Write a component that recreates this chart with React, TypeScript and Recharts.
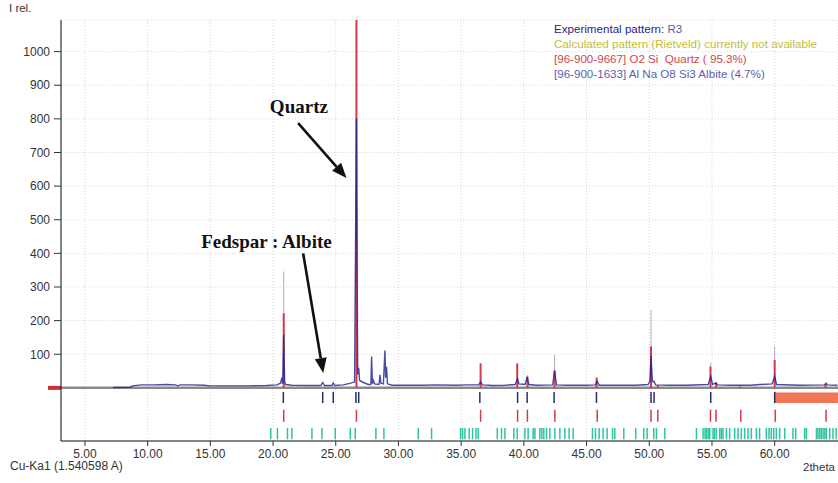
import { ComposedChart, Line, XAxis, YAxis, CartesianGrid, ReferenceLine, ReferenceArea, ReferenceDot } from 'recharts';

// 2theta axis
const xTicks = [5, 10, 15, 20, 25, 30, 35, 40, 45, 50, 55, 60];
const yTicks = [100, 200, 300, 400, 500, 600, 700, 800, 900, 1000];

// experimental pattern R3 (2theta, I rel.)
const expTheta = [
  7.25, 8.6, 8.8, 9.5, 10.5, 11.5, 12.2, 12.4, 12.6, 13.5, 14.5, 15.0, 16.5, 18.0, 19.5,
  20.3, 20.6, 20.7, 20.77, 20.85, 20.92, 21.0, 21.5, 22.5, 23.8, 23.96, 24.1, 24.7, 24.8, 24.9,
  25.6, 26.2, 26.5, 26.65, 26.75, 26.83, 26.9, 27.2, 27.6, 27.8, 27.86, 27.92, 28.0, 28.1,
  28.45, 28.53, 28.6, 28.8, 28.92, 28.98, 29.05, 29.12, 29.5, 30.5, 32.0, 33.0, 34.5, 35.5,
  36.4, 36.55, 36.7, 37.5, 38.5, 39.3, 39.5, 39.6, 40.1, 40.26, 40.4, 41.0, 42.3, 42.45, 42.6,
  43.5, 45.0, 45.7, 45.84, 46.0, 47.5, 49.0, 49.9, 50.05, 50.14, 50.25, 50.38, 50.5, 51.5,
  53.0, 54.7, 54.9, 55.05, 55.3, 55.45, 56.5, 58.0, 59.8, 60.0, 60.15, 62.0, 64.0, 64.1, 64.2, 65.0,
];
const expIntensity = [
  1, 2, 6, 9, 9, 10, 9, 6, 9, 9, 8, 6, 6, 6, 7,
  9, 14, 30, 12, 158, 20, 10, 8, 7, 7, 16, 7, 7, 15, 7,
  9, 14, 18, 800, 40, 60, 22, 16, 10, 10, 93, 12, 22, 12,
  10, 39, 14, 12, 111, 30, 63, 12, 8, 8, 8, 9, 8, 9,
  9, 18, 9, 7, 8, 10, 27, 12, 10, 31, 10, 8, 9, 51, 9,
  8, 8, 9, 20, 8, 8, 8, 10, 20, 95, 18, 20, 9, 8,
  8, 10, 34, 10, 15, 9, 8, 8, 12, 34, 10, 8, 9, 14, 9, 8,
];

// Quartz sticks drawn in the pattern
const quartzTheta = [20.85, 26.65, 36.55, 39.47, 40.29, 42.45, 45.8, 50.14, 50.68, 54.88, 55.33, 57.25, 60.0, 64.05];
const quartzHeight = [222, 1100, 73, 73, 33, 52, 31, 123, 8, 63, 16, 4, 83, 12];

// faint peak-list sticks
const peakTheta = [20.85, 26.65, 42.45, 50.14, 54.9, 60.0];
const peakHeight = [346, 808, 98, 232, 74, 123];

// marker rows under the pattern
const peakRow = [20.82, 23.96, 24.8, 26.61, 26.83, 36.49, 39.5, 40.26, 42.41, 45.79, 50.14, 50.38, 54.9, 60.0];
const quartzRow = [20.85, 26.65, 36.55, 39.5, 40.28, 42.47, 45.85, 50.14, 50.68, 54.88, 55.32, 57.3, 60.05, 64.1];
const albiteRow = [
  19.82, 20.35, 21.15, 21.5, 23.1, 23.9, 24.96, 26.16, 26.55, 28.2, 28.84, 31.58, 32.64,
  34.95, 35.11, 35.3, 35.64, 35.91, 36.18, 36.36, 37.88, 38.22, 38.49, 39.2, 39.47, 40.08,
  40.34, 40.74, 40.88, 41.27, 41.43, 41.59, 41.81, 42.07, 42.47, 42.87, 43.27, 43.61, 43.93,
  45.47, 45.71, 46.0, 46.32, 46.64, 47.07, 47.25, 47.97, 48.92, 49.56, 49.83, 50.36, 50.57,
  51.24, 53.76, 54.29, 54.45, 54.56, 54.7, 54.82, 55.09, 55.2, 55.35, 55.62, 55.75, 55.88,
  56.15, 56.41, 56.81, 57.08, 57.34, 57.61, 57.87, 58.14, 58.54, 58.8, 59.33, 59.55, 59.73,
  59.92, 60.13, 60.4, 60.8, 61.46, 61.68, 62.39, 62.53, 63.33, 63.45, 63.59, 63.72, 63.86,
  64.0, 64.12, 64.39, 64.65, 64.9,
];

// excluded range (orange bar)
const excluded = [60.0, 65.05];

const X_DOMAIN = [3.09, 65.05];
const Y_DOMAIN = [-158, 1094];

const data = expTheta.map((x, i) => ({ x, y: expIntensity[i] }));

const sans = 'Liberation Sans, Arial, sans-serif';
const serif = 'Liberation Serif, Times New Roman, serif';

const Arrow = (props: any) => {
  const { x1, y1, x2, y2 } = props;
  const ang = Math.atan2(y2 - y1, x2 - x1);
  const len = 15, half = 6;
  const bx = x2 - len * Math.cos(ang);
  const by = y2 - len * Math.sin(ang);
  const pts = [
    [x2, y2],
    [bx + half * Math.sin(ang), by - half * Math.cos(ang)],
    [bx - half * Math.sin(ang), by + half * Math.cos(ang)],
  ].map(p => p.join(',')).join(' ');
  return (
    <g>
      <line x1={x1} y1={y1} x2={bx} y2={by} stroke="#111" strokeWidth={2.6} />
      <polygon points={pts} fill="#111" />
    </g>
  );
};

const label = (text: string) => (p: any) => (
  <text x={p.cx} y={p.cy} textAnchor="middle" dominantBaseline="central"
    fontFamily={serif} fontWeight="bold" fontSize={19} fill="#111">{text}</text>
);

export default function App() {
  return (
    <div style={{ position: 'absolute', left: 0, top: 0, width: 838, height: 483, background: '#fff', overflow: 'hidden', fontFamily: sans }}>
      <div style={{ position: 'absolute', left: 9, top: 2, fontSize: 11.5, color: '#333' }}>I rel.</div>
      <div style={{ position: 'absolute', left: 10, top: 459, fontSize: 12, color: '#333' }}>Cu-Ka1 (1.540598 A)</div>
      <div style={{ position: 'absolute', left: 803, top: 461, fontSize: 11.5, color: '#333', whiteSpace: 'nowrap' }}>2theta</div>

      <ComposedChart width={838} height={483} data={data} margin={{ top: 20, right: 0, left: 0, bottom: 12 }}>
        <CartesianGrid stroke="#d8d8d8" strokeDasharray="1 2" />
        <XAxis dataKey="x" type="number" domain={X_DOMAIN} ticks={xTicks} allowDataOverflow
          tickFormatter={(v: number) => v.toFixed(2)} tickSize={5} tickMargin={3} height={30}
          tick={{ fontSize: 12, fill: '#333', fontFamily: sans }} axisLine={{ stroke: '#111' }} tickLine={{ stroke: '#333' }} />
        <XAxis xAxisId="top" orientation="top" type="number" domain={X_DOMAIN} allowDataOverflow
          height={0} tick={false} tickLine={false} axisLine={{ stroke: '#111' }} />
        <YAxis type="number" domain={Y_DOMAIN} ticks={yTicks} allowDataOverflow width={61}
          tickSize={7} tickMargin={4} tick={{ fontSize: 12, fill: '#333', fontFamily: sans }}
          axisLine={{ stroke: '#111' }} tickLine={{ stroke: '#333' }} />

        <ReferenceLine y={0} stroke="#8a8a8a" strokeWidth={2.5} />
        <ReferenceLine segment={[{ x: 2.05, y: 0 }, { x: X_DOMAIN[0], y: 0 }]} stroke="#d23030" strokeWidth={4} ifOverflow="visible" />

        {peakTheta.map((t, i) => (
          <ReferenceLine key={'pk' + i} segment={[{ x: t, y: 0 }, { x: t, y: peakHeight[i] }]}
            stroke="#b8a8c0" strokeWidth={1} ifOverflow="hidden" />
        ))}
        {quartzTheta.map((t, i) => (
          <ReferenceLine key={'q' + i} segment={[{ x: t, y: 0 }, { x: t, y: quartzHeight[i] }]}
            stroke="#d03a4a" strokeWidth={2} ifOverflow="hidden" />
        ))}

        <Line dataKey="y" type="linear" stroke="#1e1e8e" strokeWidth={1.4} strokeOpacity={0.8} dot={false} isAnimationActive={false} />

        <ReferenceArea x1={excluded[0]} x2={excluded[1]} y1={-45} y2={-14} fill="#f07656" fillOpacity={1} stroke="none" ifOverflow="hidden" />
        {peakRow.map((t, i) => (
          <ReferenceLine key={'r1' + i} segment={[{ x: t, y: -12 }, { x: t, y: -45 }]} stroke="#2a2a6e" strokeWidth={1.5} ifOverflow="hidden" />
        ))}
        {quartzRow.map((t, i) => (
          <ReferenceLine key={'r2' + i} segment={[{ x: t, y: -65 }, { x: t, y: -101 }]} stroke="#c8404e" strokeWidth={1.5} ifOverflow="hidden" />
        ))}
        {albiteRow.map((t, i) => (
          <ReferenceLine key={'r3' + i} segment={[{ x: t, y: -119 }, { x: t, y: -153 }]} stroke="#2ec4a2" strokeWidth={1.5} ifOverflow="hidden" />
        ))}

        <ReferenceLine segment={[{ x: 22.0, y: 787 }, { x: 25.86, y: 624 }]} shape={Arrow} ifOverflow="visible" />
        <ReferenceLine segment={[{ x: 22.4, y: 400 }, { x: 24.0, y: 44 }]} shape={Arrow} ifOverflow="visible" />
        <ReferenceDot x={22.06} y={836} r={0} shape={label('Quartz')} ifOverflow="visible" />
        <ReferenceDot x={19.47} y={435} r={0} shape={label('Fedspar : Albite')} ifOverflow="visible" />
      </ComposedChart>

      <div style={{ position: 'absolute', left: 554, top: 21, fontSize: 11.6, lineHeight: '15px', whiteSpace: 'nowrap' }}>
        <div><span style={{ color: '#26268a' }}>Experimental pattern:</span> <span style={{ color: '#5a5ab0' }}>R3</span></div>
        <div style={{ color: '#c4bc3c' }}>Calculated pattern (Rietveld) currently not available</div>
        <div style={{ color: '#d04848' }}>[96-900-9667] O2 Si&nbsp; Quartz ( 95.3%)</div>
        <div style={{ color: '#5a62b0' }}>[96-900-1633] Al Na O8 Si3 Albite (4.7%)</div>
      </div>
    </div>
  );
}
